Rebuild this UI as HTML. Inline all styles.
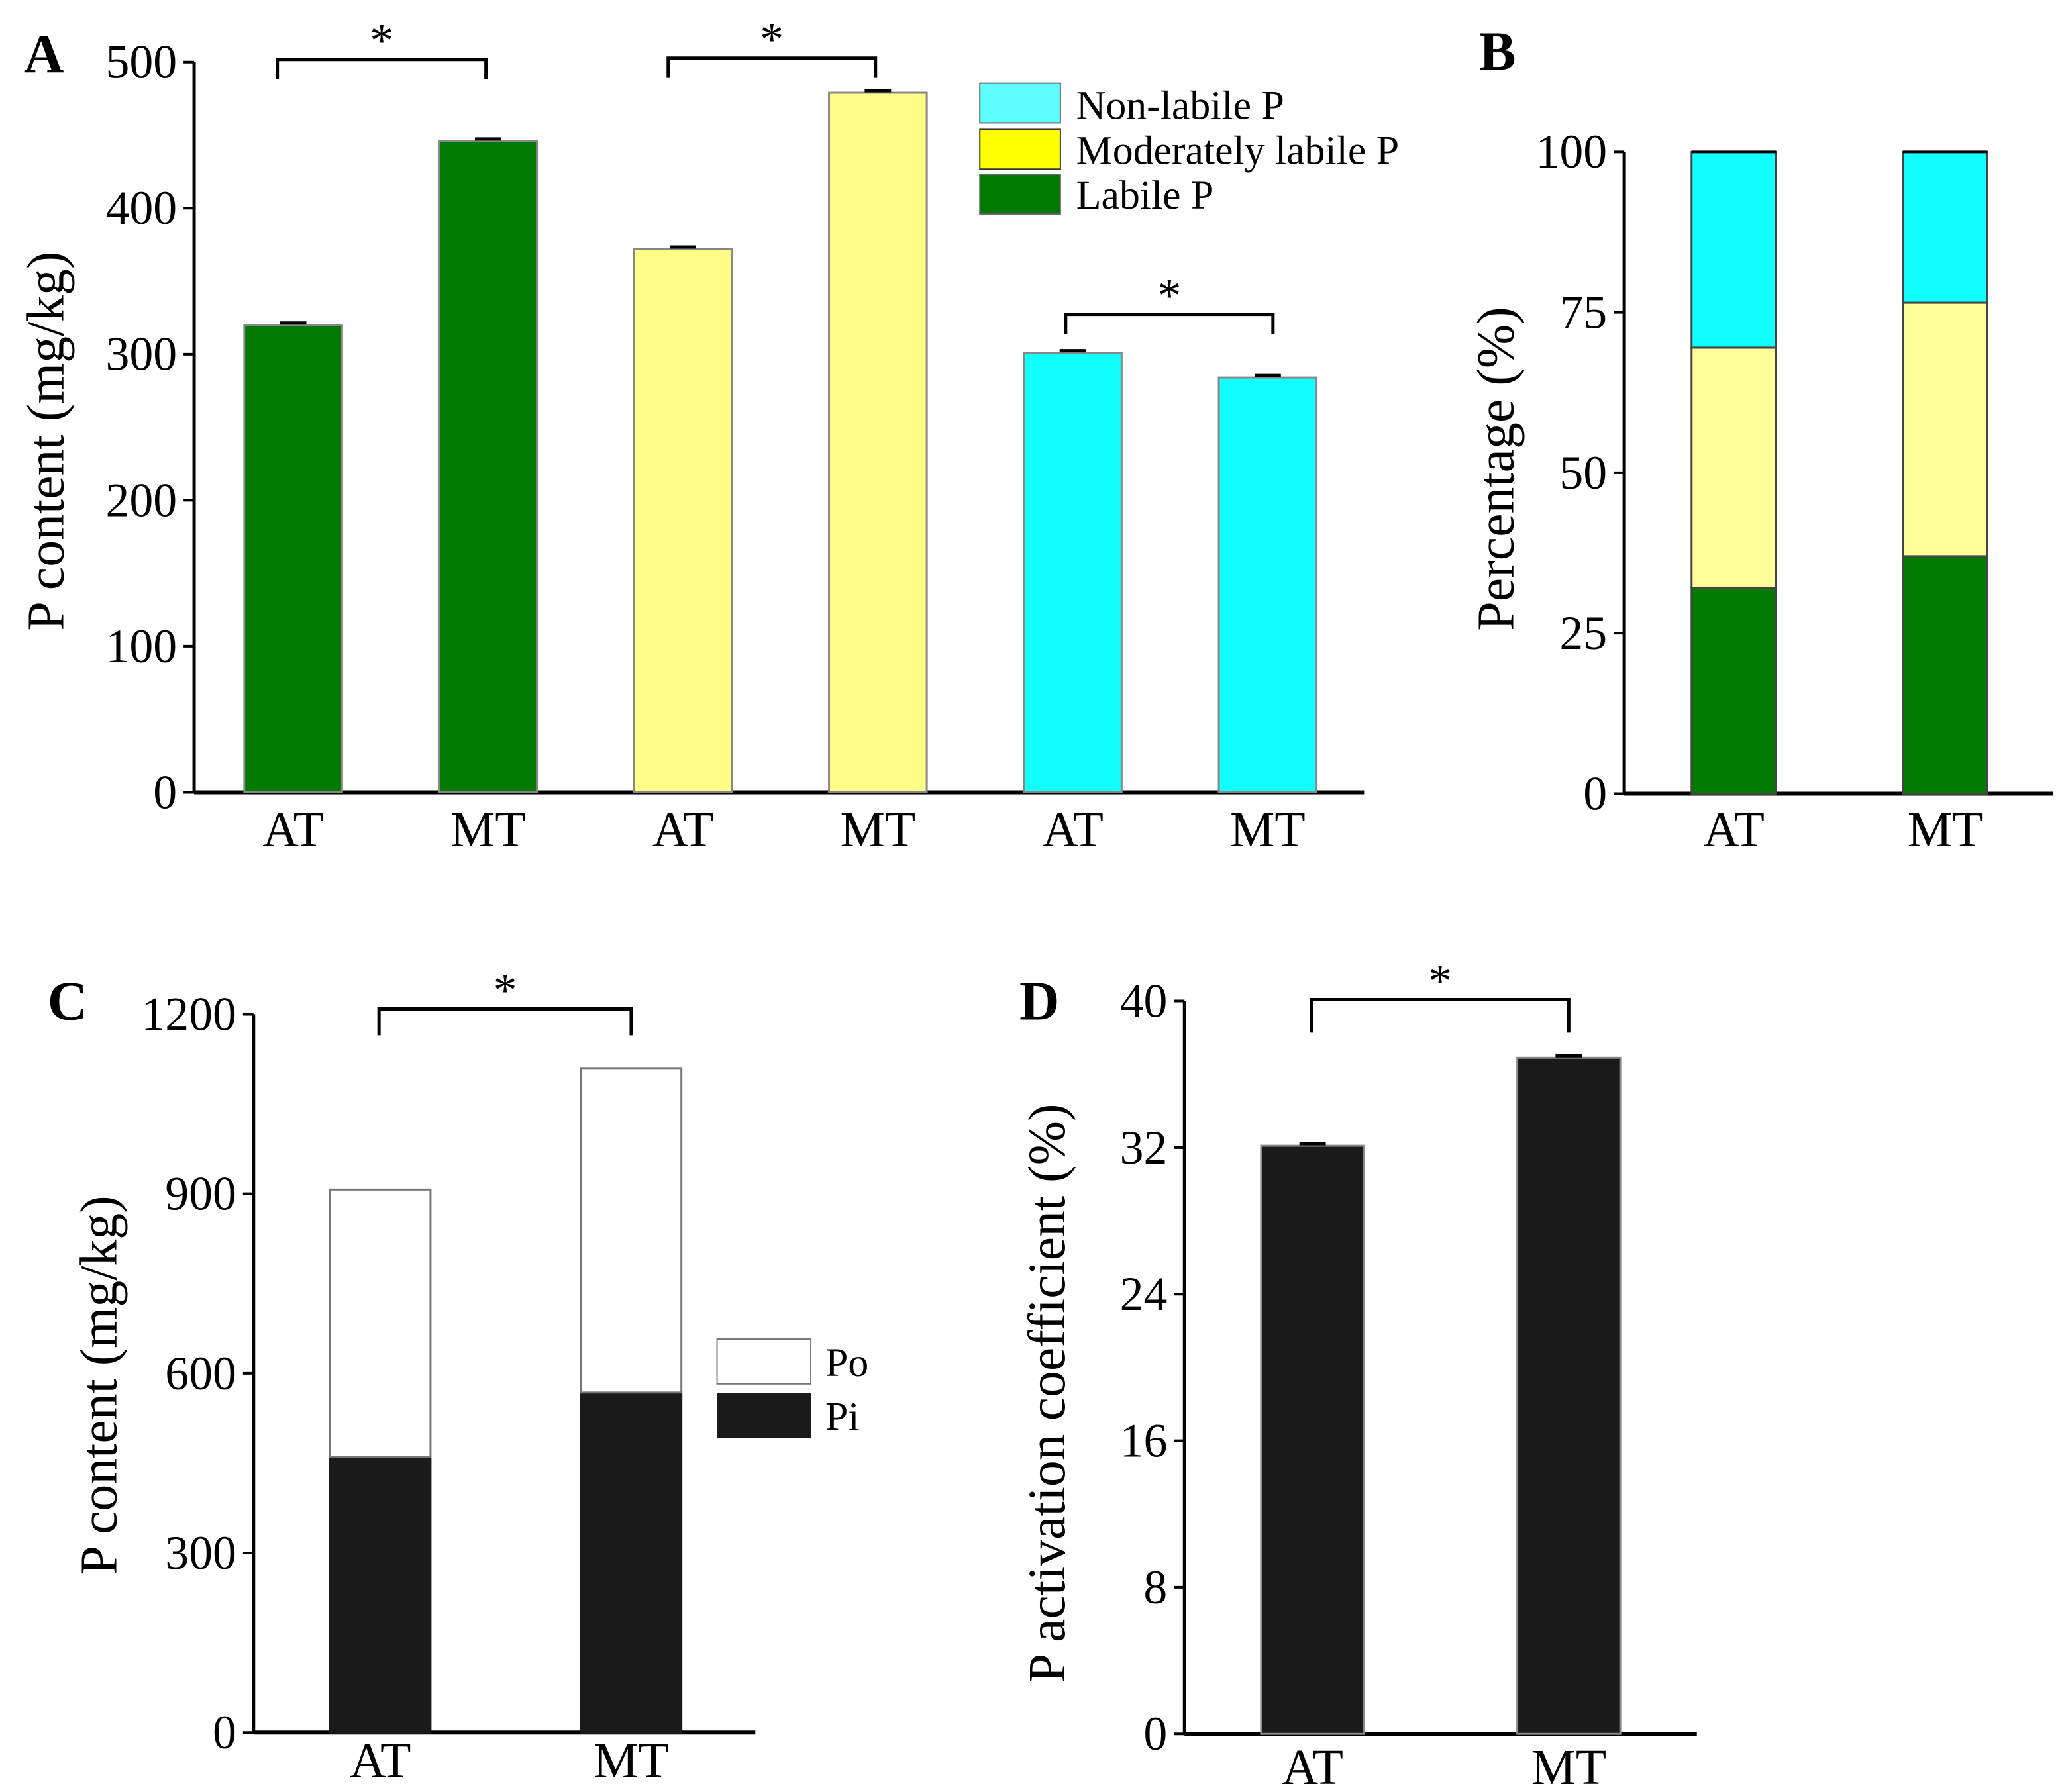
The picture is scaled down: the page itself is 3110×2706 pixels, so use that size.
<!DOCTYPE html>
<html><head><meta charset="utf-8"><style>
html,body{margin:0;padding:0;background:#fff;}
svg{display:block;font-family:"Liberation Serif",serif;}
</style></head><body>
<svg id="fig" width="3110" height="2706" viewBox="0 0 1560 1357" preserveAspectRatio="none" xmlns="http://www.w3.org/2000/svg">
<rect width="1560" height="1357" fill="#fff"/>
<text x="18" y="55" font-size="42" font-weight="bold">A</text>
<text x="1120" y="53" font-size="42" font-weight="bold">B</text>
<text x="36" y="772" font-size="42" font-weight="bold">C</text>
<text x="772" y="772" font-size="42" font-weight="bold">D</text>
<text transform="translate(48,334) rotate(-90)" text-anchor="middle" font-size="40">P content (mg/kg)</text>
<text transform="translate(1146,355) rotate(-90)" text-anchor="middle" font-size="40">Percentage (%)</text>
<text transform="translate(88,1049) rotate(-90)" text-anchor="middle" font-size="40">P content (mg/kg)</text>
<text transform="translate(806,1055) rotate(-90)" text-anchor="middle" font-size="40">P activation coefficient (%)</text>
<g id="leg">
<rect x="742" y="63" width="61" height="30" fill="#5ffefe" stroke="#666"/>
<rect x="742" y="98" width="61" height="30" fill="#ffff00" stroke="#333"/>
<rect x="742" y="132" width="61" height="30" fill="#007a00" stroke="#666"/>
<text x="815" y="90" font-size="31">Non-labile P</text>
<text x="815" y="124" font-size="31">Moderately labile P</text>
<text x="815" y="158" font-size="31">Labile P</text>
</g>
<g>
<rect x="543" y="1014" width="71" height="34" fill="#fff" stroke="#777"/>
<rect x="543" y="1055" width="71" height="34" fill="#1a1a1a"/>
<text x="625" y="1042" font-size="31">Po</text>
<text x="625" y="1083" font-size="31">Pi</text>
</g>
</svg>
<script>
// Panel A data
const aCats=["AT","MT","AT","MT","AT","MT"];
const aVals=[320,446,372,479,301,284];
const aColors=["#007a00","#007a00","#ffff88","#ffff88","#11ffff","#11ffff"];
const aTicks=[0,100,200,300,400,500];
// Panel B data
const bCats=["AT","MT"];
const bLabile=[32,37];
const bModerate=[37.5,39.5];
const bNonLabile=[30.5,23.5];
const bTicks=[0,25,50,75,100];
// Panel C data
const cCats=["AT","MT"];
const cPi=[460,568];
const cPo=[447,542];
const cTicks=[0,300,600,900,1200];
// Panel D data
const dCats=["AT","MT"];
const dVals=[32.1,36.9];
const dTicks=[0,8,16,24,32,40];

const svg=document.getElementById('fig');
const NS="http://www.w3.org/2000/svg";
function mk(tag,attrs,parent){const e=document.createElementNS(NS,tag);for(const k in attrs)e.setAttribute(k,attrs[k]);(parent||svg).appendChild(e);return e;}

function axis(p,name){
  const g=mk('g',{});
  
  
  const y=v=>p.y0-(v-p.min)/(p.max-p.min)*(p.y0-p.y1);
  const yl=mk('line',{x1:p.x0,y1:p.y1,x2:p.x0,y2:p.y0+1,stroke:'#000','stroke-width':2.5},g);
  
  
  const xl=mk('line',{x1:p.x0,y1:p.y0,x2:p.xe,y2:p.y0,stroke:'#000','stroke-width':3},g);
  
  
  p.ticks.forEach(t=>{
    mk('line',{x1:p.x0-8,y1:y(t),x2:p.x0,y2:y(t),stroke:'#000','stroke-width':2},g);
    const tx=mk('text',{x:p.x0-13,y:y(t)+12,'text-anchor':'end','font-size':36},g);
    tx.textContent=t;
    
    
  });
  return y;
}
function xlabels(cats,xs,yy,name){
  cats.forEach((c,i)=>{
    const t=mk('text',{x:xs(i),y:yy,'text-anchor':'middle','font-size':38});
    t.textContent=c;
    
    
  });
}
function bar(x,w,yTop,yBot,fill,stroke,name){
  const r=mk('rect',{x:x-w/2,y:yTop,width:w,height:Math.max(0,yBot-yTop),fill:fill,stroke:stroke,'stroke-width':1.5});
  
  
  return r;
}
function err(x,yv){mk('line',{x1:x-10,y1:yv-1.5,x2:x+10,y2:yv-1.5,stroke:'#000','stroke-width':2.5});}
function bracket(x1,x2,yT,drop,name){
  const g=mk('g',{});
  
  
  mk('path',{d:`M${x1},${yT+drop}V${yT}H${x2}V${yT+drop}`,fill:'none',stroke:'#000','stroke-width':2.5},g);
  const t=mk('text',{x:(x1+x2)/2,y:yT-2,'text-anchor':'middle','font-size':36},g);
  t.textContent='*';
}

// Panel A
const pA={x0:147,xe:1033,y0:600,y1:47,min:0,max:500,ticks:aTicks};
const yA=axis(pA,'panel-a');
const xA=i=>222+i*147.6;
aVals.forEach((v,i)=>{bar(xA(i),74,yA(v),pA.y0,aColors[i],'#888','bar-a-'+i);err(xA(i),yA(v));});
xlabels(aCats,xA,641,'panel-a');
bracket(210,368,45,15,'significance-a-labile');
bracket(506,663,44,15,'significance-a-moderate');
bracket(807,964,238,15,'significance-a-nonlabile');

// Panel B
const pB={x0:1230,xe:1555,y0:601,y1:115,min:0,max:100,ticks:bTicks};
const yB=axis(pB,'panel-b');
const xB=i=>1313+i*160;
bCats.forEach((c,i)=>{
  const a=bLabile[i],b=a+bModerate[i],n=b+bNonLabile[i];
  bar(xB(i),64,yB(a),yB(0),'#007a00','#444','bar-b-labile-'+i);
  bar(xB(i),64,yB(b),yB(a),'#ffff99','#444','bar-b-moderate-'+i);
  bar(xB(i),64,yB(n),yB(b),'#11ffff','#444','bar-b-nonlabile-'+i);
  mk('line',{x1:xB(i)-32,y1:yB(n),x2:xB(i)+32,y2:yB(n),stroke:'#000','stroke-width':2});
});
xlabels(bCats,xB,641,'panel-b');

// Panel C
const pC={x0:192,xe:572,y0:1312,y1:768,min:0,max:1200,ticks:cTicks};
const yC=axis(pC,'panel-c');
const xC=i=>288+i*190;
cCats.forEach((c,i)=>{
  bar(xC(i),76,yC(cPi[i]),yC(0),'#1a1a1a','#1a1a1a','bar-c-pi-'+i);
  bar(xC(i),76,yC(cPi[i]+cPo[i]),yC(cPi[i]),'#fff','#777','bar-c-po-'+i);
});
xlabels(cCats,xC,1346,'panel-c');
bracket(287,478,764,20,'significance-c');

// Panel D
const pD={x0:897,xe:1285,y0:1313,y1:758,min:0,max:40,ticks:dTicks};
const yD=axis(pD,'panel-d');
const xD=i=>994+i*194;
dVals.forEach((v,i)=>{bar(xD(i),78,yD(v),pD.y0,'#1a1a1a','#888','bar-d-'+i);err(xD(i),yD(v));});
xlabels(dCats,xD,1351,'panel-d');
bracket(993,1188,757,25,'significance-d');
</script>
</body></html>
